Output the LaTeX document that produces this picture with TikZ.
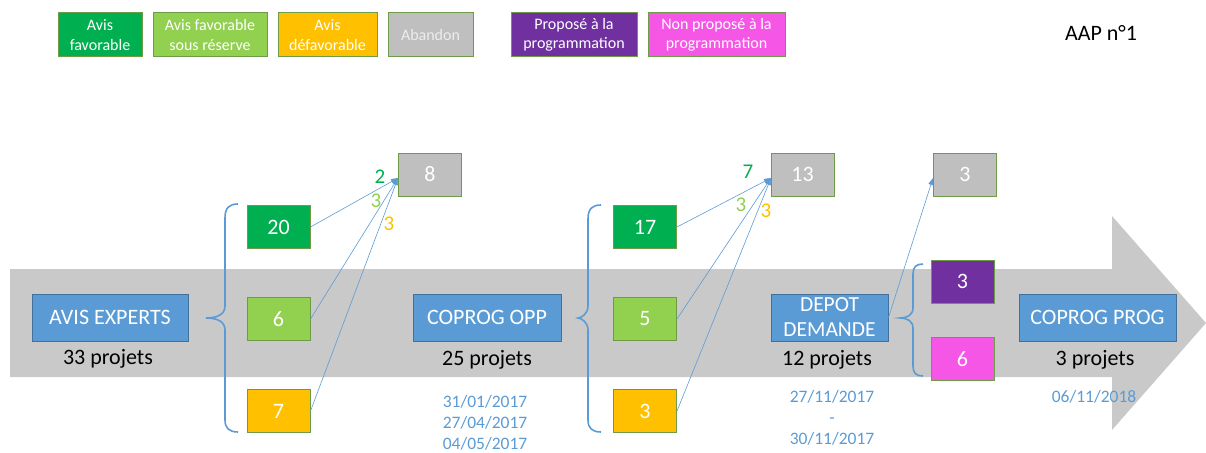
\documentclass[tikz,border=0pt]{standalone}
\usepackage{fontspec}
\setmainfont{Carlito}
\usetikzlibrary{arrows.meta}
\definecolor{fav}{HTML}{00B050}
\definecolor{favres}{HTML}{92D050}
\definecolor{defav}{HTML}{FFC000}
\definecolor{aband}{HTML}{BFBFBF}
\definecolor{prop}{HTML}{7030A0}
\definecolor{nprop}{HTML}{F656E6}
\definecolor{bluebox}{HTML}{5B9BD5}
\definecolor{blueedge}{HTML}{41719C}
\definecolor{greenedge}{HTML}{6E9B48}
\definecolor{band}{HTML}{C9C9C9}
\tikzset{
  legbox/.style={draw=greenedge, line width=1pt, text=white, minimum height=44pt, inner sep=0pt, align=center, font=\fontsize{16}{19.5}\selectfont},
  numbox/.style={draw=greenedge, line width=1pt, text=white, minimum width=63pt, minimum height=43pt, inner sep=0pt, font=\fontsize{22}{24}\selectfont},
  stagebox/.style={fill=bluebox, draw=blueedge, line width=1pt, text=white, minimum height=47pt, inner sep=0pt, align=center, font=\fontsize{22}{24}\selectfont},
  count/.style={font=\fontsize{22}{24}\selectfont, text=black},
  datetxt/.style={font=\fontsize{17.5}{21}\selectfont, text=bluebox, align=center},
  flow/.style={draw=bluebox, line width=0.6pt, -{Triangle[length=7pt,width=5pt]}},
  lbl/.style={font=\fontsize{21}{24}\selectfont},
  bracestyle/.style={draw=bluebox, line width=1.6pt}
}
\begin{document}
\begin{tikzpicture}[x=1pt,y=-1pt]
\useasboundingbox (0,0) rectangle (1206,452);
% big arrow
\fill[band] (10,269) -- (1112,269) -- (1112,216) -- (1206,323) -- (1112,430) -- (1112,377) -- (10,377) -- cycle;

% legend
\node[legbox, fill=fav, minimum width=84pt] (l1) at (100,35) {Avis\\favorable};
\node[legbox, fill=favres, minimum width=114pt] (l2) at (210,35) {Avis favorable\\sous réserve};
\node[legbox, fill=defav, minimum width=99pt] (l3) at (327.5,35) {Avis\\défavorable};
\node[legbox, fill=aband, minimum width=85pt, text=white!93!black] (l4) at (430.5,35) {Abandon};
\node[legbox, fill=prop, minimum width=126pt] (l5) at (574,35) {Proposé à la\\programmation};
\node[legbox, fill=nprop, minimum width=137pt] (l6) at (716.5,35) {Non proposé à la\\programmation};
\node[font=\fontsize{22}{24}\selectfont] (aap) at (1101,33) {AAP n°1};

% stages
\node[stagebox, minimum width=156pt] (s1) at (110,317.5) {AVIS EXPERTS};
\node[count] (c1) at (108,359) {33 projets};
\node[stagebox, minimum width=148pt] (s2) at (487,317.5) {COPROG OPP};
\node[count] (c2) at (487,360) {25 projets};
\node[datetxt] (d2) at (485,423) {31/01/2017\\27/04/2017\\04/05/2017};
\node[stagebox, minimum width=117pt, font=\fontsize{21.5}{25}\selectfont] (s3) at (829.5,317.5) {DEPOT\\DEMANDE};
\node[count] (c3) at (827,360) {12 projets};
\node[datetxt] (d3) at (832,418) {27/11/2017\\-\\30/11/2017};
\node[stagebox, minimum width=157pt] (s4) at (1097.5,317.5) {COPROG PROG};
\node[count] (c4) at (1095,360) {3 projets};
\node[datetxt] (d4) at (1094,397) {06/11/2018};

% stage 1 results
\node[numbox, fill=fav] (a20) at (278.5,227) {20};
\node[numbox, fill=favres] (a6) at (278.5,319) {6};
\node[numbox, fill=defav] (a7) at (278.5,411) {7};
\node[numbox, fill=aband] (g8) at (430,174.5) {8};
% stage 2 results
\node[numbox, fill=fav] (b17) at (645,227) {17};
\node[numbox, fill=favres] (b5) at (645,319) {5};
\node[numbox, fill=defav] (b3) at (645,411) {3};
\node[numbox, fill=aband] (g13) at (802.5,174.5) {13};
% stage 3 results
\node[numbox, fill=aband] (g3) at (965,174.5) {3};
\node[numbox, fill=prop] (p3) at (962.5,281.5) {3};
\node[numbox, fill=nprop] (k6) at (962.5,359) {6};

% braces
\draw[bracestyle] (238,204) .. controls (229,204) and (225,208) .. (225,218) -- (225,306) .. controls (225,314) and (218,318) .. (206,318) .. controls (218,318) and (225,322) .. (225,330) -- (225,420) .. controls (225,428) and (229,432) .. (238,432);
\draw[bracestyle] (601,205) .. controls (592,205) and (588,209) .. (588,219) -- (588,306) .. controls (588,314) and (581,318) .. (578,318) .. controls (581,318) and (588,322) .. (588,330) -- (588,420) .. controls (588,428) and (592,432) .. (601,432);
\draw[bracestyle] (923,264) .. controls (916,264) and (913,267) .. (913,274) -- (913,308) .. controls (913,315) and (907,318) .. (900,318) .. controls (907,318) and (913,321) .. (913,328) -- (913,366) .. controls (913,373) and (916,376) .. (923,376);

% flows to abandon
\coordinate (t1) at (398,178);
\coordinate (t2) at (771,178);
\coordinate (t3) at (933,178);
\draw[flow] (a20.east) -- (t1);
\draw[flow] (a6.east) -- (t1);
\draw[flow] (a7.east) -- (t1);
\draw[flow] (b17.east) -- (t2);
\draw[flow] (b5.east) -- (t2);
\draw[flow] (b3.east) -- (t2);
\draw[flow] (s3.east) -- (t3);

% labels
\node[lbl, text=fav] (la1) at (380,177) {2};
\node[lbl, text=favres] (la2) at (376,201) {3};
\node[lbl, text=defav] (la3) at (389,224) {3};
\node[lbl, text=fav] (lb1) at (748,172) {7};
\node[lbl, text=favres] (lb2) at (741,205) {3};
\node[lbl, text=defav] (lb3) at (766,211) {3};
\end{tikzpicture}
\end{document}
